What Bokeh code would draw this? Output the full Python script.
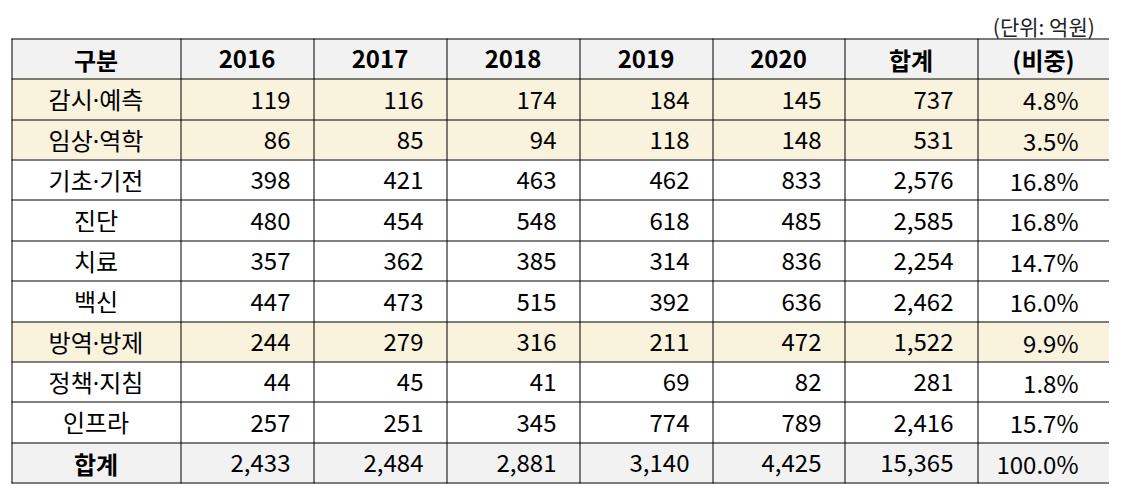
from bokeh.plotting import figure
from bokeh.models import ColumnDataSource, Range1d
from bokeh.core.properties import value
from bokeh.embed import file_html
from bokeh.resources import INLINE

# ---------------- data ----------------
categories = ["감시·예측", "임상·역학", "기초·기전", "진단", "치료", "백신", "방역·방제", "정책·지침", "인프라"]
years = ["2016", "2017", "2018", "2019", "2020"]
v2016 = [119, 86, 398, 480, 357, 447, 244, 44, 257]
v2017 = [116, 85, 421, 454, 362, 473, 279, 45, 251]
v2018 = [174, 94, 463, 548, 385, 515, 316, 41, 345]
v2019 = [184, 118, 462, 618, 314, 392, 211, 69, 774]
v2020 = [145, 148, 833, 485, 836, 636, 472, 82, 789]
row_totals = [737, 531, 2576, 2585, 2254, 2462, 1522, 281, 2416]
shares = [4.8, 3.5, 16.8, 16.8, 14.7, 16.0, 9.9, 1.8, 15.7]
year_totals = [2433, 2484, 2881, 3140, 4425]
grand_total = 15365
grand_share = 100.0
highlighted = ["감시·예측", "임상·역학", "방역·방제"]
header_first = "구분"
header_total = "합계"
header_share = "(비중)"
total_label = "합계"
unit_label = "(단위:  억원)"

# ---------------- layout ----------------
FONT = value("Noto Sans CJK KR")
LABEL_FONT = value("'Noto Sans', 'Noto Sans CJK KR'")
col_edges = [11, 180, 313, 446, 579, 712, 844, 977, 1109]
top, bottom = 38, 482
n_rows = len(categories) + 2
row_h = (bottom - top) / n_rows
row_edges = [round(top + row_h * i) for i in range(n_rows + 1)]

HEADER_BG = "#F2F2F2"
HIGHLIGHT_BG = "#F9F2DC"
TOTAL_BG = "#F2F2F2"

p = figure(width=1109, height=484, output_backend="svg", toolbar_location=None,
           x_range=Range1d(0, 1109), y_range=Range1d(484, 0),
           min_border=0, outline_line_color=None)
p.axis.visible = False
p.grid.visible = False
p.background_fill_color = "white"
p.border_fill_color = "white"

# row backgrounds
row_colors = [HEADER_BG] + [HIGHLIGHT_BG if c in highlighted else "white" for c in categories] + [TOTAL_BG]
bg = ColumnDataSource(dict(
    left=[col_edges[0]] * n_rows, right=[col_edges[-1]] * n_rows,
    top=row_edges[:-1], bottom=row_edges[1:], color=row_colors))
p.quad(left="left", right="right", top="top", bottom="bottom", fill_color="color",
       line_color=None, source=bg)

# grid lines
hx0 = [col_edges[0]] * (n_rows + 1)
hx1 = [col_edges[-1] + 1] * (n_rows + 1)
hy = [y + 0.5 for y in row_edges]
p.segment(x0=hx0, y0=hy, x1=hx1, y1=hy, line_color="black", line_width=1)
vx = [x + 0.5 for x in col_edges]
p.segment(x0=vx, y0=[row_edges[0]] * len(vx), x1=vx, y1=[row_edges[-1] + 1] * len(vx),
          line_color="black", line_width=1)

def centers_y(i):
    return (row_edges[i] + row_edges[i + 1]) / 2 + 0.5

# header
headers = [header_first] + years + [header_total, header_share]
hdr = ColumnDataSource(dict(
    x=[(col_edges[j] + col_edges[j + 1]) / 2 for j in range(len(headers))],
    y=[centers_y(0)] * len(headers), t=headers))
p.text(x="x", y="y", text="t", source=hdr, text_font=FONT, text_font_size="24px",
       text_font_style="bold", text_align="center", text_baseline="middle", text_color="black")

# category labels
lab = ColumnDataSource(dict(
    x=[(col_edges[0] + col_edges[1]) / 2] * len(categories),
    y=[centers_y(i + 1) for i in range(len(categories))], t=categories))
p.text(x="x", y="y", text="t", source=lab, text_font=LABEL_FONT, text_font_size="24px",
       text_align="center", text_baseline="middle", text_color="black")
p.text(x=[(col_edges[0] + col_edges[1]) / 2], y=[centers_y(n_rows - 1)], text=[total_label],
       text_font=FONT, text_font_size="24px", text_font_style="bold",
       text_align="center", text_baseline="middle", text_color="black")

# numbers
series = [v2016, v2017, v2018, v2019, v2020]
nx, ny, nt = [], [], []
for j, s in enumerate(series):
    vals = s + [year_totals[j]]
    for i, v in enumerate(vals):
        nx.append(col_edges[j + 2] - 23)
        ny.append(centers_y(i + 1))
        nt.append(f"{v:,}")
for i, v in enumerate(row_totals + [grand_total]):
    nx.append(col_edges[7] - 24)
    ny.append(centers_y(i + 1))
    nt.append(f"{v:,}")
for i, v in enumerate(shares + [grand_share]):
    nx.append(col_edges[8] - 31)
    ny.append(centers_y(i + 1))
    nt.append(f"{v:.1f}%")
num = ColumnDataSource(dict(x=nx, y=ny, t=nt))
p.text(x="x", y="y", text="t", source=num, text_font=FONT, text_font_size="24px",
       text_align="right", text_baseline="middle", text_color="black")

# unit label
p.text(x=[1099], y=[25], text=[unit_label], text_font=FONT, text_font_size="21px",
       text_align="right", text_baseline="middle", text_color="#222222")

open("out.html", "w").write(file_html(p, INLINE))
